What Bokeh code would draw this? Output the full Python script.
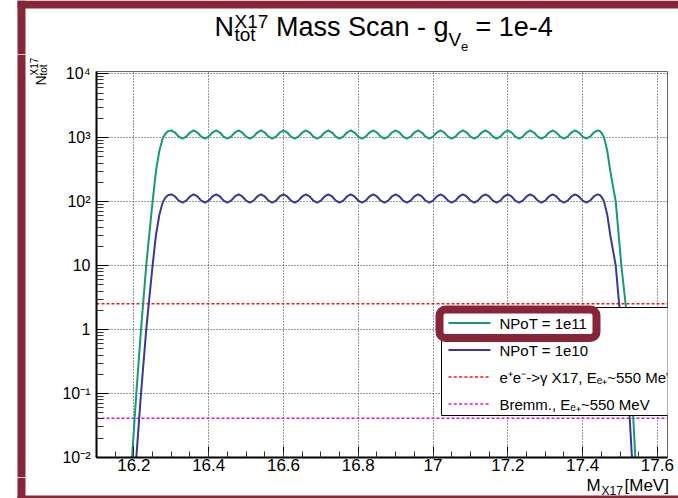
import math
from bokeh.plotting import figure
from bokeh.layouts import column, row
from bokeh.models import (Range1d, FixedTicker, CustomJSTickFormatter, Label,
                          BoxAnnotation)
from bokeh.core.properties import value
from bokeh.embed import file_html
from bokeh.resources import INLINE

# ---------------- data ----------------
MASS_MEV = [
    16.190, 16.195, 16.2065, 16.219, 16.233, 16.241, 16.250, 16.259, 16.268, 16.2775, 16.285, 16.292,
    16.30, 16.31, 16.32, 16.33, 16.34, 16.35, 16.36, 16.37, 16.38, 16.39,
    16.40, 16.41, 16.42, 16.43, 16.44, 16.45, 16.46, 16.47, 16.48, 16.49,
    16.50, 16.51, 16.52, 16.53, 16.54, 16.55, 16.56, 16.57, 16.58, 16.59,
    16.60, 16.61, 16.62, 16.63, 16.64, 16.65, 16.66, 16.67, 16.68, 16.69,
    16.70, 16.71, 16.72, 16.73, 16.74, 16.75, 16.76, 16.77, 16.78, 16.79,
    16.80, 16.81, 16.82, 16.83, 16.84, 16.85, 16.86, 16.87, 16.88, 16.89,
    16.90, 16.91, 16.92, 16.93, 16.94, 16.95, 16.96, 16.97, 16.98, 16.99,
    17.00, 17.01, 17.02, 17.03, 17.04, 17.05, 17.06, 17.07, 17.08, 17.09,
    17.10, 17.11, 17.12, 17.13, 17.14, 17.15, 17.16, 17.17, 17.18, 17.19,
    17.20, 17.21, 17.22, 17.23, 17.24, 17.25, 17.26, 17.27, 17.28, 17.29,
    17.30, 17.31, 17.32, 17.33, 17.34, 17.35, 17.36, 17.37, 17.38, 17.39,
    17.40, 17.41, 17.42, 17.43, 17.44,
    17.447, 17.452, 17.4575, 17.466, 17.474, 17.4886, 17.5036, 17.515, 17.522, 17.532, 17.541, 17.546,
]

N_NPOT_1E11 = [
    0.0045, 0.01, 0.1, 1, 10, 30, 100, 300, 620, 1000, 1170, 1270,
    1300, 1206, 1039, 965, 1039, 1206,
    1300, 1206, 1039, 965, 1039, 1206,
    1300, 1206, 1039, 965, 1039, 1206,
    1300, 1206, 1039, 965, 1039, 1206,
    1300, 1206, 1039, 965, 1039, 1206,
    1300, 1206, 1039, 965, 1039, 1206,
    1300, 1206, 1039, 965, 1039, 1206,
    1300, 1206, 1039, 965, 1039, 1206,
    1300, 1206, 1039, 965, 1039, 1206,
    1300, 1206, 1039, 965, 1039, 1206,
    1300, 1206, 1039, 965, 1039, 1206,
    1300, 1206, 1039, 965, 1039, 1206,
    1300, 1206, 1039, 965, 1039, 1206,
    1300, 1206, 1039, 965, 1039, 1206,
    1300, 1206, 1039, 965, 1039, 1206,
    1300, 1206, 1039, 965, 1039, 1206,
    1300, 1206, 1039, 965, 1039, 1206,
    1300, 1206, 1039, 965, 1039, 1206,
    1300, 1206, 1039, 965, 1039, 1206,
    1300,
    1260, 1160, 1000, 620, 300, 100, 10, 2.5, 1, 0.1, 0.01, 0.0045,
]

N_NPOT_1E10 = [
    0.00045, 0.001, 0.01, 0.1, 1, 3, 10, 30, 62, 100, 117, 127,
    130, 120.6, 103.9, 96.5, 103.9, 120.6,
    130, 120.6, 103.9, 96.5, 103.9, 120.6,
    130, 120.6, 103.9, 96.5, 103.9, 120.6,
    130, 120.6, 103.9, 96.5, 103.9, 120.6,
    130, 120.6, 103.9, 96.5, 103.9, 120.6,
    130, 120.6, 103.9, 96.5, 103.9, 120.6,
    130, 120.6, 103.9, 96.5, 103.9, 120.6,
    130, 120.6, 103.9, 96.5, 103.9, 120.6,
    130, 120.6, 103.9, 96.5, 103.9, 120.6,
    130, 120.6, 103.9, 96.5, 103.9, 120.6,
    130, 120.6, 103.9, 96.5, 103.9, 120.6,
    130, 120.6, 103.9, 96.5, 103.9, 120.6,
    130, 120.6, 103.9, 96.5, 103.9, 120.6,
    130, 120.6, 103.9, 96.5, 103.9, 120.6,
    130, 120.6, 103.9, 96.5, 103.9, 120.6,
    130, 120.6, 103.9, 96.5, 103.9, 120.6,
    130, 120.6, 103.9, 96.5, 103.9, 120.6,
    130, 120.6, 103.9, 96.5, 103.9, 120.6,
    130, 120.6, 103.9, 96.5, 103.9, 120.6,
    130,
    126, 116, 100, 62, 30, 10, 1, 0.25, 0.1, 0.01, 0.001, 0.00045,
]

ANNIH_LEVEL = 2.54      # e+e- -> gamma X17
BREMS_LEVEL = 0.0412    # Bremsstrahlung
X_RANGE = [16.1, 17.627]
Y_RANGE = [0.01, 1.086e4]
X_TICKS = [16.2, 16.4, 16.6, 16.8, 17.0, 17.2, 17.4, 17.6]
Y_TICKS = [0.01, 0.1, 1, 10, 100, 1000, 10000]
Y_TICK_LABELS = ["10⁻²", "10⁻¹", "1", "10", "10²", "10³", "10⁴"]
LEGEND_LABELS = ["NPoT = 1e11", "NPoT = 1e10",
                 "e⁺e⁻->γ X17, Eₑ₊~550 MeV", "Bremm., Eₑ₊~550 MeV"]

# ---------------- style ----------------
GREEN = "#159a73"
BLUE = "#38389a"
RED = "#ff1010"
MAGENTA = "#e010e0"
MAROON = "#862638"
FONT = "Liberation Sans"
MID = 0.35   # em distance from baseline to the text's vertical middle

W = 678
TOP_H = 54
LEFT_W = 50
MAIN_H = 423
BOT_H = 498 - TOP_H - MAIN_H

def no_align(f):
    if "frame_align" in f.properties():
        f.frame_align = False
    return f

def strip(x0, y0, w, h):
    """plain drawing area: data x = page x, data y = -page y"""
    f = figure(width=w, height=h, title=None,
               x_range=Range1d(x0, x0 + w), y_range=Range1d(-(y0 + h), -y0),
               x_axis_location=None, y_axis_location=None, toolbar_location=None,
               output_backend="svg", min_border=0)
    f.outline_line_color = None
    f.background_fill_color = "white"
    f.border_fill_color = "white"
    f.xgrid.visible = False
    f.ygrid.visible = False
    return no_align(f)

def htext(f, txt, x, base, size):
    f.text(x=[x], y=[-(base - MID * size)], text=[txt], text_font=value(FONT),
           text_font_size=value(f"{size}px"), text_color="black",
           text_align="left", text_baseline="middle")

def vtext(f, txt, base_x, y, size):
    f.text(x=[base_x - MID * size], y=[-y], text=[txt], text_font=value(FONT),
           text_font_size=value(f"{size}px"), text_color="black",
           text_align="left", text_baseline="middle", angle=math.pi / 2)

# ---------------- title strip ----------------
top = strip(0, 0, W, TOP_H)
top.quad(left=[17], right=[W], top=[0], bottom=[-8], fill_color=MAROON, line_color=None)
top.quad(left=[17], right=[25], top=[0], bottom=[-TOP_H], fill_color=MAROON, line_color=None)
htext(top, "N", 214, 36, 27)
htext(top, "X17", 234, 28, 19)
htext(top, "tot", 234, 41, 19)
htext(top, "Mass Scan - g", 275.5, 36, 27)
htext(top, "V", 448, 46, 19)
htext(top, "e", 460.5, 51, 13)
htext(top, "= 1e-4", 475, 36, 27)

# ---------------- y-title strip ----------------
left = strip(0, TOP_H, LEFT_W, MAIN_H)
left.quad(left=[17], right=[25], top=[-TOP_H], bottom=[-(TOP_H + MAIN_H)], fill_color=MAROON, line_color=None)
vtext(left, "N", 45, 85, 14)
vtext(left, "X17", 37, 75, 10)
vtext(left, "tot", 46.5, 75, 10)

# ---------------- main plot ----------------
p = figure(width=W - LEFT_W, height=MAIN_H, title=None,
           x_range=Range1d(*X_RANGE), y_range=Range1d(*Y_RANGE),
           y_axis_type="log", output_backend="svg", toolbar_location=None,
           min_border_left=46, min_border_right=11, min_border_top=17,
           min_border_bottom=20)
no_align(p)
p.background_fill_color = "white"
p.border_fill_color = "white"
p.outline_line_color = "#666666"
p.outline_line_width = 1

x_minor = [round(16.1 + 0.05 * i, 2) for i in range(31)]
p.xaxis.ticker = FixedTicker(ticks=X_TICKS, minor_ticks=x_minor)
p.xaxis.formatter = CustomJSTickFormatter(code="return String(Math.round(tick*10)/10);")
y_minor = [m * 10.0 ** k for k in range(-2, 4) for m in range(2, 10)]
p.yaxis.ticker = FixedTicker(ticks=Y_TICKS, minor_ticks=y_minor)
p.yaxis.formatter = CustomJSTickFormatter(
    args=dict(tvals=Y_TICKS, tlabels=Y_TICK_LABELS),
    code="""
    for (let i = 0; i < tvals.length; i++) {
        if (Math.abs(Math.log10(tick) - Math.log10(tvals[i])) < 1e-6) return tlabels[i];
    }
    return "";
    """)
for ax in (p.xaxis[0], p.yaxis[0]):
    ax.axis_line_color = "black"
    ax.axis_line_width = 2
    ax.major_tick_out = 0
    ax.minor_tick_out = 0
    ax.major_tick_line_color = "black"
    ax.minor_tick_line_color = "#333333"
    ax.major_label_text_font = FONT
    ax.major_label_text_color = "black"
p.xaxis.major_tick_in = 11
p.xaxis.minor_tick_in = 6
p.xaxis.major_label_text_font_size = "17px"
p.xaxis.major_label_standoff = 1
p.yaxis.major_tick_in = 12
p.yaxis.minor_tick_in = 7
p.yaxis.major_label_text_font_size = "16px"
p.yaxis.major_label_standoff = 6

for g in (p.xgrid[0], p.ygrid[0]):
    g.grid_line_color = "#333333"
    g.grid_line_dash = "1 2"
    g.grid_line_width = 1

p.line(X_RANGE, [ANNIH_LEVEL, ANNIH_LEVEL], line_color=RED, line_width=1.6, line_dash="3 2")
p.line(X_RANGE, [BREMS_LEVEL, BREMS_LEVEL], line_color=MAGENTA, line_width=1.6, line_dash="3 2")
p.line(MASS_MEV, N_NPOT_1E11, line_color=GREEN, line_width=2)
p.line(MASS_MEV, N_NPOT_1E10, line_color=BLUE, line_width=2)

# ---- hand-built legend (page pixel positions -> frame-relative screen units)
FL, FB = 96, 457
def sx(px): return px - FL
def sy(py): return FB - py

def hbox(l, r, t, b, **kw):
    p.add_layout(BoxAnnotation(left=sx(l), right=sx(r), top=sy(t), bottom=sy(b),
                               left_units="screen", right_units="screen",
                               top_units="screen", bottom_units="screen", **kw))

hbox(441, 700, 307, 415, fill_color="white", fill_alpha=1,
     line_color="black", line_alpha=1, line_width=1)
LEG_COLORS = [GREEN, BLUE, RED, MAGENTA]
LEG_ROWS = [322.5, 349.5, 376.5, 403.5]
for i, (lab, col, yc) in enumerate(zip(LEGEND_LABELS, LEG_COLORS, LEG_ROWS)):
    if i < 2:
        hbox(448, 490, yc - 1, yc + 1, fill_color=col, fill_alpha=1, line_alpha=0)
    else:
        for k in range(8):
            x0 = 448 + k * 5.3
            hbox(x0, x0 + 3, yc - 0.8, yc + 0.8, fill_color=col, fill_alpha=1, line_alpha=0)
    p.add_layout(Label(x=sx(499), y=sy(yc + 0.5), x_units="screen", y_units="screen",
                       text=lab, text_font=FONT, text_font_size="15px", text_color="black",
                       text_align="left", text_baseline="middle"))

# highlight around the first legend entry
hbox(439, 596, 309, 337.5, fill_alpha=0, line_color=MAROON, line_alpha=1,
     line_width=8, border_radius=6)

# ---------------- x-title strip ----------------
y_b = TOP_H + MAIN_H
bot = strip(0, y_b, W, BOT_H)
bot.quad(left=[17], right=[25], top=[-y_b], bottom=[-498], fill_color=MAROON, line_color=None)
bot.quad(left=[17], right=[W], top=[-495], bottom=[-498], fill_color=MAROON, line_color=None)
htext(bot, "M", 586, 491, 17)
htext(bot, "X17", 601, 495, 12)
htext(bot, "[MeV]", 624, 491, 17)

layout = column(top, row(left, p), bot)
open("out.html", "w").write(file_html(layout, INLINE))
